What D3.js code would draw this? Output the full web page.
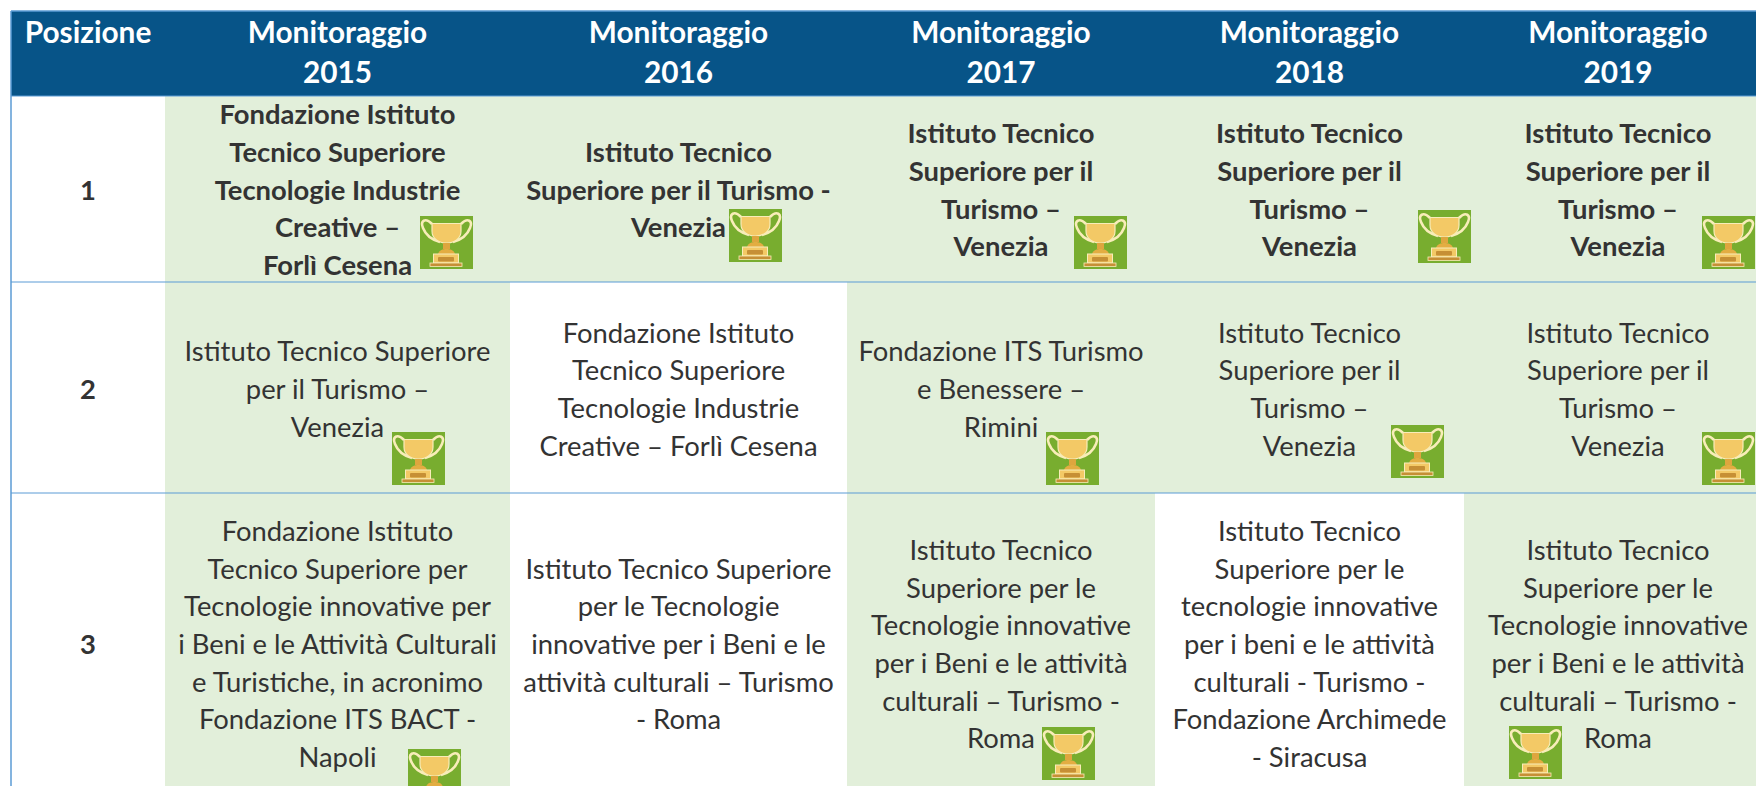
<!DOCTYPE html>
<html>
<head>
<meta charset="utf-8">
<script src="https://cdn.jsdelivr.net/npm/d3@7"></script>
<style>
  html, body { margin: 0; padding: 0; background: #fff; overflow: hidden; }
  text { font-family: Lato, "Noto Sans", sans-serif; }
</style>
</head>
<body>
<div id="chart"></div>
<script>
const positions = ['1', '2', '3'];
const years = ['2015', '2016', '2017', '2018', '2019'];
const headerFirst = 'Posizione';
const headerWord = 'Monitoraggio';

const rank1 = [
  ['Fondazione Istituto', 'Tecnico Superiore', 'Tecnologie Industrie', 'Creative \u2013', 'Forl\u00ec Cesena'],
  ['Istituto Tecnico', 'Superiore per il Turismo -', 'Venezia'],
  ['Istituto Tecnico', 'Superiore per il', 'Turismo \u2013', 'Venezia'],
  ['Istituto Tecnico', 'Superiore per il', 'Turismo \u2013', 'Venezia'],
  ['Istituto Tecnico', 'Superiore per il', 'Turismo \u2013', 'Venezia']
];
const rank2 = [
  ['Istituto Tecnico Superiore', 'per il Turismo \u2013', 'Venezia'],
  ['Fondazione Istituto', 'Tecnico Superiore', 'Tecnologie Industrie', 'Creative \u2013 Forl\u00ec Cesena'],
  ['Fondazione ITS Turismo', 'e Benessere \u2013', 'Rimini'],
  ['Istituto Tecnico', 'Superiore per il', 'Turismo \u2013', 'Venezia'],
  ['Istituto Tecnico', 'Superiore per il', 'Turismo \u2013', 'Venezia']
];
const rank3 = [
  ['Fondazione Istituto', 'Tecnico Superiore per', 'Tecnologie innovative per', 'i Beni e le Attivit\u00e0 Culturali', 'e Turistiche, in acronimo', 'Fondazione ITS BACT -', 'Napoli'],
  ['Istituto Tecnico Superiore', 'per le Tecnologie', 'innovative per i Beni e le', 'attivit\u00e0 culturali \u2013 Turismo', '- Roma'],
  ['Istituto Tecnico', 'Superiore per le', 'Tecnologie innovative', 'per i Beni e le attivit\u00e0', 'culturali \u2013 Turismo -', 'Roma'],
  ['Istituto Tecnico', 'Superiore per le', 'tecnologie innovative', 'per i beni e le attivit\u00e0', 'culturali - Turismo -', 'Fondazione Archimede', '- Siracusa'],
  ['Istituto Tecnico', 'Superiore per le', 'Tecnologie innovative', 'per i Beni e le attivit\u00e0', 'culturali \u2013 Turismo -', 'Roma']
];
const ranks = [rank1, rank2, rank3];

// which cells won (green + trophy)
const highlighted = [
  [1, 1, 1, 1, 1],
  [1, 0, 1, 1, 1],
  [1, 0, 1, 0, 1]
];

const width = 1756;
const height = 786;
const lineHeight = 37.7;
const headerLineHeight = 40.6;
const fontSize = 27.4;
const headerFontSize = 29.8;

// layout
const colEdges = [11, 165, 510, 847, 1155, 1464, 1772];
const rowEdges = [96, 282, 493, 796];
const rowTextNudge = [1.2, 2, 0];
const headerTop = 11;
const trophySize = 53;
const trophyOrigins = [
  [[420, 216], [729, 209], [1074, 216], [1418, 210], [1702, 216]],
  [[392, 432], null, [1046, 432], [1391, 425], [1702, 432]],
  [[408, 749], null, [1042, 727], null, [1509, 726]]
];

const colNames = [headerFirst].concat(years);
const x = d3.scaleOrdinal().domain(colNames).range(colEdges.slice(0, -1));
const colW = d3.scaleOrdinal().domain(colNames).range(d3.pairs(colEdges).map((p) => p[1] - p[0]));
const y = d3.scaleOrdinal().domain(positions).range(rowEdges.slice(0, -1));
const rowH = d3.scaleOrdinal().domain(positions).range(d3.pairs(rowEdges).map((p) => p[1] - p[0]));
const nudge = d3.scaleOrdinal().domain(positions).range(rowTextNudge);

const svg = d3.select('#chart').append('svg')
  .attr('width', width)
  .attr('height', height)
  .style('display', 'block');

// header band
svg.append('rect')
  .attr('x', colEdges[0])
  .attr('y', headerTop)
  .attr('width', width - colEdges[0])
  .attr('height', rowEdges[0] - headerTop)
  .attr('fill', '#075488');

const cells = [];
positions.forEach((p, r) => {
  years.forEach((yr, c) => {
    cells.push({ pos: p, year: yr, lines: ranks[r][c], green: highlighted[r][c], bold: r === 0, trophy: trophyOrigins[r][c] });
  });
});

svg.append('g').selectAll('rect')
  .data(cells.filter((d) => d.green))
  .join('rect')
  .attr('x', (d) => x(d.year))
  .attr('y', (d) => y(d.pos))
  .attr('width', (d) => colW(d.year))
  .attr('height', (d) => rowH(d.pos))
  .attr('fill', '#e2efda');

// grid lines
const lineColor = '#5b9bd5';
svg.append('g').selectAll('line')
  .data(rowEdges.slice(0, -1))
  .join('line')
  .attr('x1', colEdges[0])
  .attr('x2', width)
  .attr('y1', (d) => d)
  .attr('y2', (d) => d)
  .attr('stroke', lineColor)
  .attr('stroke-width', 1);
svg.append('line')
  .attr('x1', colEdges[0]).attr('x2', width)
  .attr('y1', headerTop).attr('y2', headerTop)
  .attr('stroke', lineColor).attr('stroke-width', 1.5);
svg.append('line')
  .attr('x1', colEdges[0]).attr('x2', colEdges[0])
  .attr('y1', headerTop).attr('y2', height)
  .attr('stroke', lineColor).attr('stroke-width', 1.5);

function addLines(g, lines, cx, cy, size, leading, weight, color) {
  g.append('g').selectAll('text')
    .data(lines)
    .join('text')
    .attr('x', cx)
    .attr('y', (d, i) => cy + (i - (lines.length - 1) / 2) * leading)
    .attr('dy', '0.35em')
    .attr('text-anchor', 'middle')
    .attr('font-size', size)
    .attr('font-weight', weight)
    .attr('fill', color)
    .text((d) => d);
}

// header text
const headerCy = 52.5;
addLines(svg, [headerFirst], x(headerFirst) + colW(headerFirst) / 2, headerCy - headerLineHeight / 2, headerFontSize, headerLineHeight, 700, '#fff');
years.forEach((yr) => {
  addLines(svg, [headerWord, yr], x(yr) + colW(yr) / 2, headerCy, headerFontSize, headerLineHeight, 700, '#fff');
});

// position column
positions.forEach((p) => {
  addLines(svg, [p], x(headerFirst) + colW(headerFirst) / 2, y(p) + rowH(p) / 2 + nudge(p), fontSize, lineHeight, 700, '#333');
});

// body text
cells.forEach((d) => {
  addLines(svg, d.lines, x(d.year) + colW(d.year) / 2, y(d.pos) + rowH(d.pos) / 2 + nudge(d.pos), fontSize, lineHeight, d.bold ? 700 : 400, '#333');
});

// trophy icon, drawn in a 53 x 53 box
function drawTrophy(g) {
  g.append('rect').attr('width', 53).attr('height', 53).attr('fill', '#78ad2f');
  g.append('path')
    .attr('d', 'M12 8 C5 1 0 5 3 12 C6 20 13 24 20 26 M41 8 C48 1 53 5 50 12 C47 20 40 24 33 26')
    .attr('fill', 'none').attr('stroke', '#f8edb9').attr('stroke-width', 2.6);
  g.append('path')
    .attr('d', 'M12 7.5 H41 V15 C41 23 34 27 26.5 27 C19 27 12 23 12 15 Z')
    .attr('fill', '#f3c966').attr('stroke', '#f8edb9').attr('stroke-width', 1.2);
  g.append('rect').attr('x', 23).attr('y', 27).attr('width', 7).attr('height', 6).attr('fill', '#dea63e');
  g.append('path').attr('d', 'M18 38 C19 34 23 33 26.5 33 C30 33 34 34 35 38 Z').attr('fill', '#e3ad42');
  g.append('rect').attr('x', 13.5).attr('y', 38).attr('width', 25).attr('height', 9)
    .attr('fill', '#f3c966').attr('stroke', '#f8edb9').attr('stroke-width', 1);
  g.append('rect').attr('x', 18).attr('y', 41).attr('width', 16).attr('height', 4.5).attr('rx', 1).attr('fill', '#c68f35');
  g.append('rect').attr('x', 10).attr('y', 47).attr('width', 32).attr('height', 3.4)
    .attr('fill', '#c68f35').attr('stroke', '#f8edb9').attr('stroke-width', 0.8);
}

svg.append('g').selectAll('g')
  .data(cells.filter((d) => d.trophy))
  .join('g')
  .attr('transform', (d) => `translate(${d.trophy[0]}, ${d.trophy[1]}) scale(${trophySize / 53})`)
  .each(function() { drawTrophy(d3.select(this)); });
</script>
</body>
</html>
